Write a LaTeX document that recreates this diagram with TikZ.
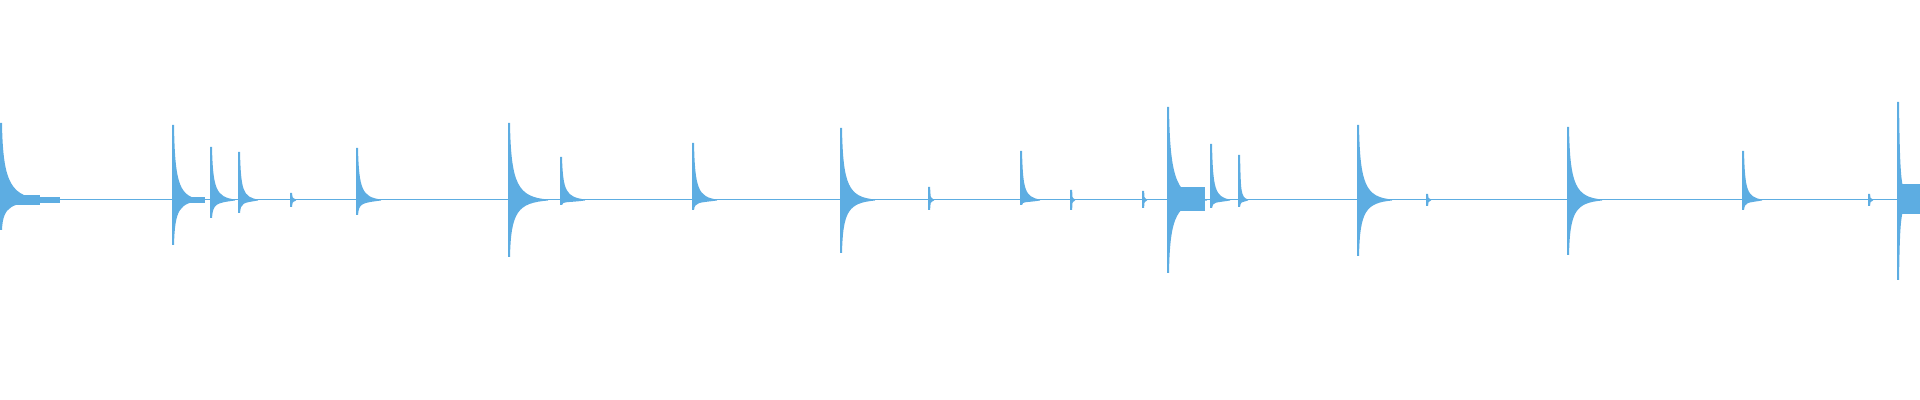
\documentclass[tikz,border=0pt]{standalone}
\definecolor{wavecol}{RGB}{93,173,226}
\tikzset{wave/.style={fill=wavecol}}
% one hit: x, top, bottom, decay length
\newcommand{\hit}[4]{%
  \fill[wave] (#1,200) -- (#1,#2) -- ({#1+2},#2)
    .. controls ({#1+3},{(#2+4*200)/5}) and ({#1+#4/4},197) .. ({#1+#4},199.5)
    -- ({#1+#4},200.5)
    .. controls ({#1+#4/4},203) and ({#1+3},{(#3+4*200)/5}) .. ({#1+2},#3)
    -- (#1,#3) -- cycle;}
\begin{document}
\begin{tikzpicture}[x=0.5pt,y=-0.5pt]
\useasboundingbox (0,0) rectangle (1920,400);
% baseline
\draw[wavecol,line width=0.5pt] (0,200) -- (1920,200);
% sustained tails
\fill[wave] (0,195) rectangle (40,205);
\fill[wave] (40,197) rectangle (60,203);
\fill[wave] (175,197) rectangle (205,203);
\fill[wave] (1170,187) rectangle (1205,211);
\fill[wave] (1900,184) rectangle (1920,214);
% hits
\foreach \x/\t/\b/\d in {0/123/230/45, 172/125/245/30, 210/147/218/25, 238/152/213/20,
  290/193/207/6, 356/148/215/25, 508/123/257/40, 560/157/205/25, 692/143/210/25,
  840/128/253/35, 928/187/210/6, 1020/151/205/20, 1070/190/210/5, 1142/191/208/5,
  1167/107/273/40, 1210/144/208/20, 1238/155/207/10, 1357/125/256/35, 1426/194/206/5,
  1567/127/255/35, 1742/151/210/20, 1868/194/206/5, 1897/102/280/15}
  \hit{\x}{\t}{\b}{\d};
\end{tikzpicture}
\end{document}
